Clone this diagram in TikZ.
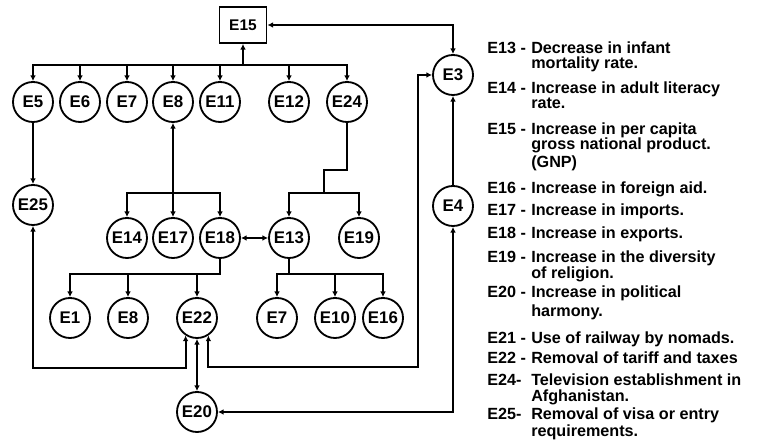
\documentclass[tikz,border=0pt]{standalone}
\usepackage{fontspec}
\setmainfont{Liberation Sans}
\usetikzlibrary{arrows.meta}
\tikzset{
	ev/.style={circle, draw, line width=1.3pt, minimum size=1cm, inner sep=0pt,
		font=\bfseries\fontsize{12}{12}\selectfont},
	evbox/.style={rectangle, draw, line width=1.3pt, minimum width=1.175cm,
		minimum height=0.9cm, inner sep=0pt, font=\bfseries\fontsize{11}{11}\selectfont},
	wire/.style={line width=1.3pt, line cap=rect},
	tip/.style={wire, -{Latex[length=4pt,width=4pt]}},
	tips/.style={wire, {Latex[length=4pt,width=4pt]}-{Latex[length=4pt,width=4pt]}},
	legtxt/.style={anchor=base west, inner sep=0pt,
		font=\bfseries\fontsize{11.5}{12}\selectfont}
}

\begin{document}
\begin{tikzpicture}[x=0.025cm, y=-0.025cm]
	\useasboundingbox (0,0) rectangle (757,444);
	% Knoten oben
	\node[evbox] (e15) at (243,25) {E15};
	\node[ev] (e5) at (33,102) {E5};
	\node[ev] (e6) at (80,102) {E6};
	\node[ev] (e7) at (127,102) {E7};
	\node[ev] (e8) at (173,102) {E8};
	\node[ev] (e11) at (220,102) {E11};
	\node[ev] (e12) at (289,102) {E12};
	\node[ev] (e24) at (347,102) {E24};
	% Knoten Mitte
	\node[ev] (e25) at (33,205) {E25};
	\node[ev] (e14) at (127,238) {E14};
	\node[ev] (e17) at (173,238) {E17};
	\node[ev] (e18) at (220,238) {E18};
	\node[ev] (e13) at (289,238) {E13};
	\node[ev] (e19) at (359,238) {E19};
	% Knoten unten
	\node[ev] (e1) at (70,318) {E1};
	\node[ev] (e8b) at (128,318) {E8};
	\node[ev] (e22) at (197,318) {E22};
	\node[ev] (e7b) at (277,318) {E7};
	\node[ev] (e10) at (335,318) {E10};
	\node[ev] (e16) at (383,318) {E16};
	\node[ev] (e20) at (197,412) {E20};
	% Knoten rechts
	\node[ev] (e3) at (453,75) {E3};
	\node[ev] (e4) at (453,206) {E4};
	% Hilfspunkte
	\coordinate (topbus) at (0,65);
	\coordinate (midbus) at (0,193);
	\coordinate (lowbus) at (0,274);
	\coordinate (jog) at (324,170);
	\coordinate (lloop) at (33,368);
	\coordinate (rloop) at (418,367);
	% Verbindungen oben
	\draw[wire] (topbus -| e5) -- (topbus -| e24);
	\draw[tip] (topbus -| e15) -- (e15);
	\foreach \n in {e5,e6,e7,e8,e11,e12,e24}
		\draw[tip] (topbus -| \n) -- (\n);
	\draw[tips] (e3) |- (e15);
	\draw[tip] (e4) -- (e3);
	\draw[tip] (e5) -- (e25);
	% Verbindungen Mitte
	\draw[tips] (e8) -- (e17);
	\draw[wire] (midbus -| e14) -- (midbus -| e18);
	\foreach \n in {e14,e18}
		\draw[tip] (midbus -| \n) -- (\n);
	\draw[tips] (e18) -- (e13);
	\draw[wire] (e24) |- (jog) -- (jog |- midbus);
	\draw[wire] (midbus -| e13) -- (midbus -| e19);
	\foreach \n in {e13,e19}
		\draw[tip] (midbus -| \n) -- (\n);
	% Verbindungen unten
	\draw[wire] (e18) -- (e18 |- lowbus);
	\draw[wire] (lowbus -| e1) -- (lowbus -| e18);
	\foreach \n in {e1,e8b,e22}
		\draw[tip] (lowbus -| \n) -- (\n);
	\draw[wire] (e13) -- (e13 |- lowbus);
	\draw[wire] (lowbus -| e7b) -- (lowbus -| e16);
	\foreach \n in {e7b,e10,e16}
		\draw[tip] (lowbus -| \n) -- (\n);
	% Rueckkopplungen
	\draw[tips] (e25) -- (lloop) -| (e22.-123);
	\draw[tips] (e22.-57) |- (rloop) |- (e3);
	\draw[tips] (e22) -- (e20);
	\draw[tips] (e20) -| (e4);
	% Legende
	\foreach \y/\lab in {54/{E13 -}, 94/{E14 -}, 135/{E15 -}, 194/{E16 -},
		216/{E17 -}, 239/{E18 -}, 263/{E19 -}, 298/{E20 -}, 344/{E21 -},
		364/{E22 -}, 386/{E24-}, 420/{E25-}}
		\node[legtxt] (key\y) at (487,\y) {\lab};
	\foreach \y/\txt in {54/{Decrease in infant}, 69/{mortality rate.},
		94/{Increase in adult literacy}, 109/{rate.},
		135/{Increase in per capita}, 150/{gross national product.},
		168/{(GNP)}, 194/{Increase in foreign aid.},
		216/{Increase in imports.}, 239/{Increase in exports.},
		263/{Increase in the diversity}, 279/{of religion.},
		298/{Increase in political}, 317/{harmony.},
		344/{Use of railway by nomads.}, 364/{Removal of tariff and taxes},
		386/{Television establishment in}, 402/{Afghanistan.},
		420/{Removal of visa or entry}, 437/{requirements.}}
		\node[legtxt] (txt\y) at (531,\y) {\txt};
\end{tikzpicture}
\end{document}
